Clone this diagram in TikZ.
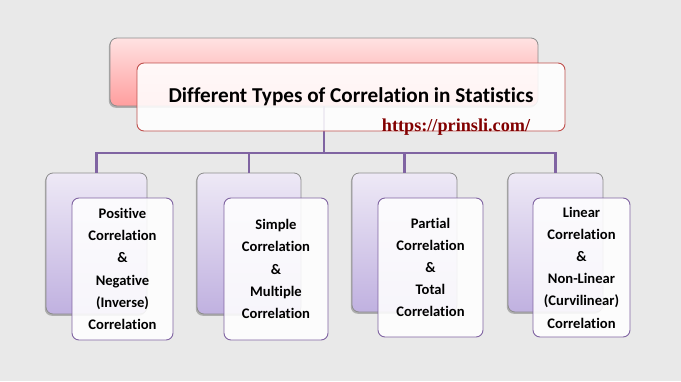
\documentclass[tikz,border=0pt]{standalone}
\usepackage{fontspec}
\setmainfont[Ligatures=NoCommon]{Carlito}
\newfontfamily\urlfont{Liberation Serif}
\usetikzlibrary{shadows}
\definecolor{bgc}{RGB}{233,233,233}
\definecolor{conn}{RGB}{128,100,162}
\definecolor{redb}{RGB}{192,80,77}
\definecolor{pinktop}{RGB}{255,226,226}
\definecolor{pinkbot}{RGB}{255,158,158}
\definecolor{lavtop}{RGB}{238,233,246}
\definecolor{lavbot}{RGB}{192,177,224}
\definecolor{urlc}{RGB}{130,0,0}
\tikzset{
  backshape/.style={rectangle, rounded corners=7pt, draw={rgb,255:red,140;green,140;blue,140}, line width=0.8pt,
    drop shadow={shadow xshift=-1.2pt, shadow yshift=-1.8pt, opacity=0.25, fill=black},
    inner sep=0pt},
  titleback/.style={backshape, top color=pinktop, bottom color=pinkbot, minimum width=428pt, minimum height=68pt},
  titlefront/.style={rectangle, rounded corners=7pt, draw=redb, line width=0.9pt, fill=white, fill opacity=0.88, text opacity=1,
    minimum width=428pt, minimum height=68pt, inner sep=0pt,
    font=\fontsize{21.2}{24}\selectfont\bfseries},
  childback/.style={backshape, top color=lavtop, bottom color=lavbot},
  childfront/.style={rectangle, rounded corners=7pt, draw=conn, line width=0.9pt, fill=white, fill opacity=0.88, text opacity=1,
    inner sep=0pt, align=center, font=\fontsize{14.6}{22.2}\selectfont\bfseries},
  connline/.style={draw=conn, line width=2.6pt}
}
\begin{document}
\begin{tikzpicture}[x=1pt,y=-1pt]
\fill[bgc] (0,0) rectangle (681,381);
\useasboundingbox (0,0) rectangle (681,381);

% back boxes
\node[titleback] (tback) at (324,72) {};
\node[childback, minimum width=101pt, minimum height=141pt] (b1) at (96.5,243.5) {};
\node[childback, minimum width=104pt, minimum height=141pt] (b2) at (249,243.5) {};
\node[childback, minimum width=105pt, minimum height=139pt] (b3) at (404.5,242.5) {};
\node[childback, minimum width=95pt, minimum height=139pt] (b4) at (555.5,242.5) {};

% connectors
\coordinate (hub) at (324,153);
\draw[connline] (tback.south) -- (hub);
\draw[connline] (b1.north) |- (hub) -| (b4.north);
\draw[connline] (b2.north) -- (b2.north |- hub);
\draw[connline] (b3.north) -- (b3.north |- hub);

% front boxes
\node[titlefront] (tfront) at (351,97) {Different Types of Correlation in Statistics};
\node[childfront, minimum width=101pt, minimum height=142pt] (f1) at (122.5,269)
  {Positive\\Correlation\\\&\\Negative\\(Inverse)\\Correlation};
\node[childfront, minimum width=104pt, minimum height=142pt] (f2) at (276,269)
  {Simple\\Correlation\\\&\\Multiple\\Correlation};
\node[childfront, minimum width=105pt, minimum height=139pt] (f3) at (430.5,267.5)
  {Partial\\Correlation\\\&\\Total\\Correlation};
\node[childfront, minimum width=97pt, minimum height=139pt] (f4) at (581.5,267.5)
  {Linear\\Correlation\\\&\\Non-Linear\\(Curvilinear)\\Correlation};

% url
\node[text=urlc, font=\urlfont\fontsize{18.2}{20}\selectfont\bfseries, inner sep=0pt] (url) at (456,127) {https://prinsli.com/};
\end{tikzpicture}
\end{document}
